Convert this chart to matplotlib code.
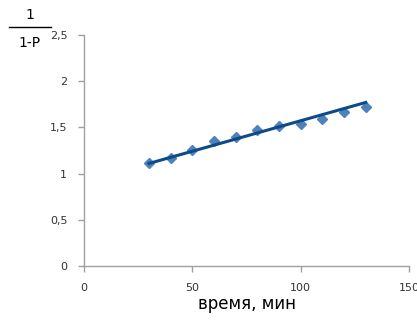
import numpy as np
import matplotlib.pyplot as plt
from matplotlib.lines import Line2D

# --- данные ---
time_min = [30, 40, 50, 60, 70, 80, 90, 100, 110, 120, 130]
inv_1mp = [1.11, 1.17, 1.26, 1.35, 1.40, 1.47, 1.51, 1.54, 1.59, 1.67, 1.72]
trend_x = [30, 130]
trend_y = [1.11, 1.77]

x_ticks = [0, 50, 100, 150]
y_ticks = [0, 0.5, 1, 1.5, 2, 2.5]
y_labels = ['0', '0,5', '1', '1,5', '2', '2,5']

fig = plt.figure(figsize=(4.17, 3.2), dpi=100)
ax = fig.add_axes([0.2014, 0.16875, 0.7796, 0.7219])

ax.plot(time_min, inv_1mp, linestyle='none', marker='D', markersize=5.5,
        color='#4f81bd', zorder=2)
ax.plot(trend_x, trend_y, color='#0d4a8a', linewidth=2.2, zorder=3)

ax.set_xlim(0, 150)
ax.set_ylim(0, 2.5)
ax.set_xticks(x_ticks)
ax.set_yticks(y_ticks)
ax.set_yticklabels(y_labels)

for s in ['top', 'right']:
    ax.spines[s].set_visible(False)
for s in ['left', 'bottom']:
    ax.spines[s].set_color('#a0a0a0')
    ax.spines[s].set_linewidth(1.0)

ax.tick_params(axis='both', colors='#a0a0a0', labelcolor='#333333',
               labelsize=8, length=4, width=1)
ax.tick_params(axis='x', pad=8)
ax.tick_params(axis='y', pad=8)

# подпись оси x
ax.set_xlabel('время, мин', fontsize=12, labelpad=2)

# подпись оси y в виде дроби
fig.text(30 / 417, 1 - 15 / 320, '1', ha='center', va='center', fontsize=10)
fig.add_artist(Line2D([9 / 417, 51 / 417], [1 - 27 / 320, 1 - 27 / 320],
                      color='black', linewidth=1.0))
fig.text(30 / 417, 1 - 43 / 320, '1-P', ha='center', va='center', fontsize=10)

fig.savefig('out.png', dpi=100)
